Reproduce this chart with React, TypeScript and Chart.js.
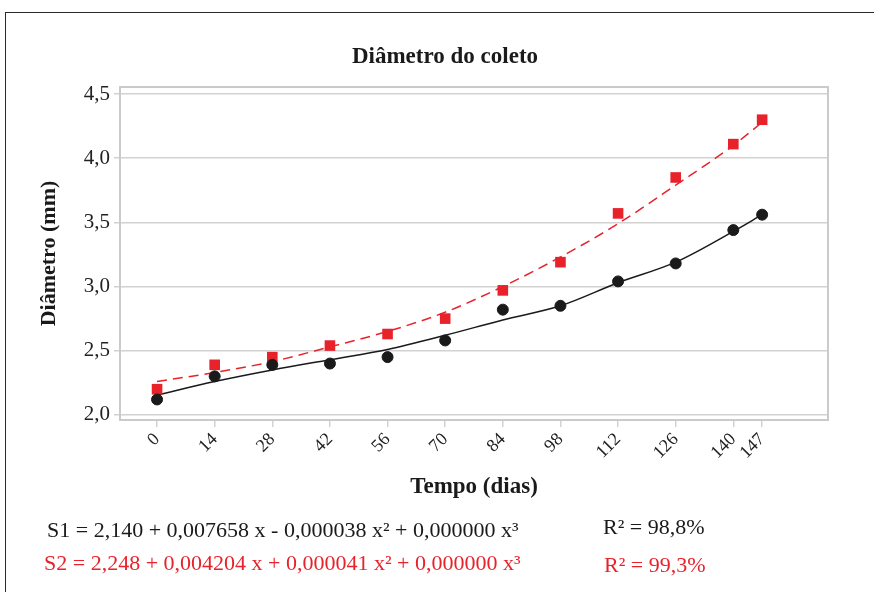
import React, { useEffect, useRef } from "react";
import { Chart, registerables } from "chart.js";

Chart.register(...registerables);

const days = [0, 14, 28, 42, 56, 70, 84, 98, 112, 126, 140, 147];
const s1Observed = [2.12, 2.30, 2.39, 2.40, 2.45, 2.58, 2.82, 2.85, 3.04, 3.18, 3.44, 3.56];
const s2Observed = [2.20, 2.39, 2.45, 2.54, 2.63, 2.75, 2.97, 3.19, 3.57, 3.85, 4.11, 4.30];
const s1Fit = [2.155, 2.26, 2.35, 2.43, 2.51, 2.62, 2.74, 2.85, 3.03, 3.19, 3.43, 3.56];
const s2Fit = [2.26, 2.33, 2.415, 2.53, 2.65, 2.80, 3.00, 3.23, 3.49, 3.79, 4.10, 4.28];
const yTicks = [2.0, 2.5, 3.0, 3.5, 4.0, 4.5];

const RED = "#e8222b";
const BLACK = "#1a1a1a";
const GRID = "#d2d2d2";
const FRAME = "#cacaca";
const SERIF = "'Liberation Serif', 'Times New Roman', serif";

const toXY = (xs: number[], ys: number[]) => xs.map((x, i) => ({ x, y: ys[i] }));

const framePlugin = {
  id: "plotFrame",
  beforeDatasetsDraw(chart: any) {
    const { ctx, chartArea } = chart;
    ctx.save();
    ctx.strokeStyle = FRAME;
    ctx.lineWidth = 2;
    ctx.strokeRect(chartArea.left, chartArea.top, chartArea.right - chartArea.left, chartArea.bottom - chartArea.top);
    ctx.restore();
  },
};

export default function App() {
  const ref = useRef<HTMLCanvasElement | null>(null);

  useEffect(() => {
    if (!ref.current) return;
    const chart = new Chart(ref.current, {
      type: "scatter",
      data: {
        datasets: [
          {
            label: "S1 obs",
            data: toXY(days, s1Observed),
            backgroundColor: BLACK,
            borderColor: BLACK,
            pointStyle: "circle",
            pointRadius: 5.5,
            showLine: false,
          },
          {
            label: "S2 obs",
            data: toXY(days, s2Observed),
            backgroundColor: RED,
            borderColor: RED,
            pointStyle: "rect",
            pointRadius: 7.5,
            borderWidth: 0,
            showLine: false,
          },
          {
            label: "S1 fit",
            data: toXY(days, s1Fit),
            borderColor: BLACK,
            borderWidth: 1.5,
            pointRadius: 0,
            showLine: true,
            cubicInterpolationMode: "monotone",
          },
          {
            label: "S2 fit",
            data: toXY(days, s2Fit),
            borderColor: RED,
            borderWidth: 1.5,
            borderDash: [10, 6],
            pointRadius: 0,
            showLine: true,
            cubicInterpolationMode: "monotone",
          },
        ],
      },
      options: {
        responsive: false,
        animation: false,
        layout: { padding: { left: 16, right: 0, top: 0, bottom: 0 } },
        plugins: {
          legend: { display: false },
          tooltip: { enabled: false },
          title: {
            display: true,
            text: "Diâmetro do coleto",
            color: BLACK,
            font: { family: SERIF, size: 23, weight: "bold" },
            padding: { top: 43, bottom: 16.4 },
          },
        },
        scales: {
          x: {
            type: "linear",
            min: -9,
            max: 163,
            afterBuildTicks: (scale: any) => {
              scale.ticks = days.map((v) => ({ value: v }));
            },
            afterFit: (scale: any) => {
              scale.height = 172;
            },
            ticks: {
              minRotation: 45,
              maxRotation: 45,
              padding: 2,
              color: "#222",
              font: { family: SERIF, size: 18 },
              callback: (v: any) => String(v),
            },
            grid: {
              drawOnChartArea: false,
              drawTicks: true,
              tickLength: 7,
              color: GRID,
              lineWidth: 1.5,
            },
            border: { display: true, color: FRAME, width: 2 },
            title: {
              display: true,
              text: "Tempo (dias)",
              color: BLACK,
              font: { family: SERIF, size: 23, weight: "bold" },
              padding: { top: 0, bottom: 91 },
            },
          },
          y: {
            type: "linear",
            min: 1.96,
            max: 4.555,
            afterBuildTicks: (scale: any) => {
              scale.ticks = yTicks.map((v) => ({ value: v }));
            },
            afterFit: (scale: any) => {
              scale.width = 104;
            },
            ticks: {
              padding: 4,
              color: "#222",
              font: { family: SERIF, size: 21 },
              callback: (v: any) => Number(v).toFixed(1).replace(".", ","),
            },
            grid: {
              drawTicks: true,
              tickLength: 6,
              color: GRID,
              lineWidth: 1.5,
            },
            border: { display: true, color: FRAME, width: 2 },
            title: {
              display: true,
              text: "Diâmetro (mm)",
              color: BLACK,
              font: { family: SERIF, size: 22, weight: "bold" },
              padding: { top: 20, bottom: 0 },
            },
          },
          yRight: {
            type: "linear",
            position: "right",
            display: true,
            afterFit: (scale: any) => {
              scale.width = 46;
            },
            ticks: { display: false },
            grid: { display: false, drawTicks: false },
            border: { display: false },
          },
        },
      },
      plugins: [framePlugin],
    } as any);
    return () => chart.destroy();
  }, []);

  const eqStyle: React.CSSProperties = {
    position: "absolute",
    fontFamily: SERIF,
    fontSize: 22,
    lineHeight: "24px",
    whiteSpace: "nowrap",
  };

  return (
    <div style={{ position: "absolute", left: 0, top: 0, width: 874, height: 592, background: "#fff", overflow: "hidden" }}>
      <canvas ref={ref} width={874} height={592} style={{ position: "absolute", left: 0, top: 0, display: "block" }} />
      <div
        style={{
          position: "absolute",
          left: 5,
          top: 12,
          width: 900,
          height: 620,
          borderTop: "1.5px solid #2a2a2a",
          borderLeft: "1.5px solid #2a2a2a",
          pointerEvents: "none",
        }}
      />
      <div style={{ ...eqStyle, left: 47, top: 518, color: BLACK }}>
        S1 = 2,140 + 0,007658 x - 0,000038 x² + 0,000000 x³
      </div>
      <div style={{ ...eqStyle, left: 603, top: 515, color: BLACK }}>R² = 98,8%</div>
      <div style={{ ...eqStyle, left: 44, top: 551, color: RED }}>
        S2 = 2,248 + 0,004204 x + 0,000041 x² + 0,000000 x³
      </div>
      <div style={{ ...eqStyle, left: 604, top: 553, color: RED }}>R² = 99,3%</div>
    </div>
  );
}
